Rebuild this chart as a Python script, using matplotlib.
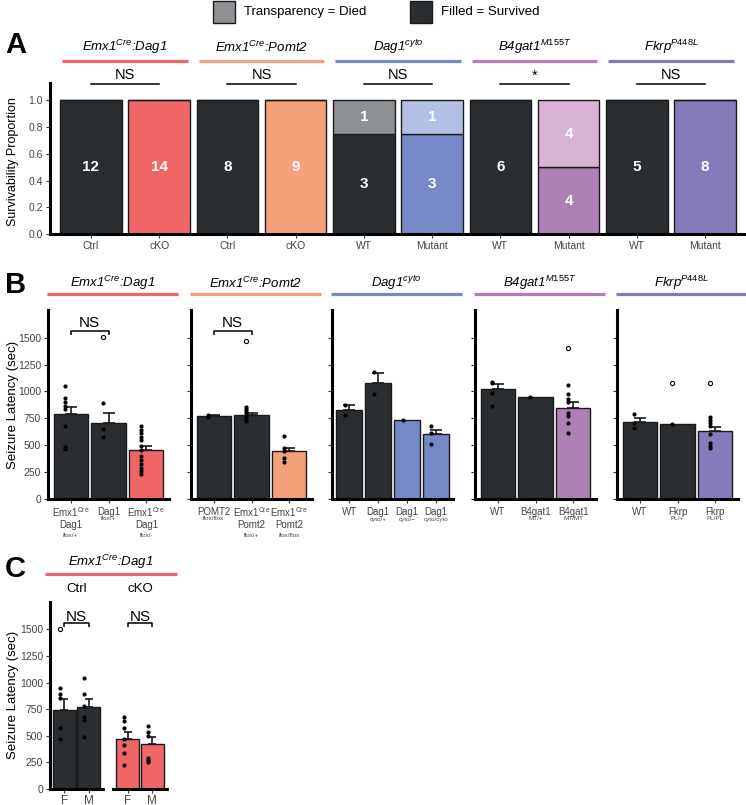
import numpy as np
import matplotlib
matplotlib.use("Agg")
import matplotlib.pyplot as plt
from matplotlib.patches import Rectangle
from matplotlib.lines import Line2D
from matplotlib.transforms import blended_transform_factory

plt.rcParams["font.family"] = ["Liberation Sans", "DejaVu Sans"]
plt.rcParams["mathtext.fontset"] = "custom"
plt.rcParams["mathtext.rm"] = "Liberation Sans"
plt.rcParams["mathtext.it"] = "Liberation Sans:italic"
plt.rcParams["mathtext.bf"] = "Liberation Sans:bold"

# ----------------------------------
# Colours
# ----------------------------------
DARK = "#2b2e31"
DARK_DIED = "#8e9193"
RED = "#f06667"
SALMON = "#f5a27c"
BLUE = "#7589c7"
BLUE_DIED = "#b3bfe4"
PINK = "#af80b6"
PINK_DIED = "#d8b3d6"
PURPLE = "#857bba"
EDGE = "#1a1a1a"
TICK_COL = "#444444"

# ----------------------------------
# Data: panel A (survival counts)
# ----------------------------------
group_titles = ["Emx1$^{Cre}$:Dag1", "Emx1$^{Cre}$:Pomt2", "Dag1$^{cyto}$",
                "B4gat1$^{M155T}$", "Fkrp$^{P448L}$"]
group_colors = [RED, SALMON, BLUE, PINK, PURPLE]

a_xlabels = ["Ctrl", "cKO", "Ctrl", "cKO", "WT", "Mutant", "WT", "Mutant", "WT", "Mutant"]
a_survived = [12, 14, 8, 9, 3, 3, 6, 4, 5, 8]
a_died = [0, 0, 0, 0, 1, 1, 0, 4, 0, 0]
a_surv_colors = [DARK, RED, DARK, SALMON, DARK, BLUE, DARK, PINK, DARK, PURPLE]
a_died_colors = [DARK_DIED, RED, DARK_DIED, SALMON, DARK_DIED, BLUE_DIED, DARK_DIED, PINK_DIED, DARK_DIED, PURPLE]
a_sig = ["NS", "NS", "NS", "*", "NS"]

# ----------------------------------
# Data: panel B (seizure latency, sec)
# ----------------------------------
b_labels = [
    [(["Emx1$^{\\mathrm{Cre}}$", "Dag1"], "flox/+"), (["Dag1"], "flox/+"), (["Emx1$^{\\mathrm{Cre}}$", "Dag1"], "flox/-")],
    [(["POMT2"], "flox/flox"), (["Emx1$^{\\mathrm{Cre}}$", "Pomt2"], "flox/+"), (["Emx1$^{\\mathrm{Cre}}$", "Pomt2"], "flox/flox")],
    [(["WT"], ""), (["Dag1"], "cyto/+"), (["Dag1"], "cyto/\u2212"), (["Dag1"], "cyto/cyto")],
    [(["WT"], ""), (["B4gat1"], "MT/+"), (["B4gat1"], "MT/MT")],
    [(["WT"], ""), (["Fkrp"], "PL/+"), (["Fkrp"], "PL/PL")],
]
b_colors = [
    [DARK, DARK, RED],
    [DARK, DARK, SALMON],
    [DARK, DARK, BLUE, BLUE],
    [DARK, DARK, PINK],
    [DARK, DARK, PURPLE],
]
b_means = [
    [789, 706, 451],
    [773, 780, 442],
    [829, 1077, 730, 600],
    [1024, 944, 848],
    [715, 699, 634],
]
b_sem = [
    [65, 92, 44],
    [8, 24, 35],
    [46, 93, 0, 43],
    [44, 0, 52],
    [40, 0, 37],
]
b_points = [
    [[1053, 943, 906, 866, 836, 674, 479, 464], [897, 650, 572],
     [674, 643, 613, 581, 544, 495, 451, 402, 365, 328, 288, 256, 232]],
    [[782, 765], [854, 835, 815, 795, 770, 745, 725], [588, 473, 442, 380, 340]],
    [[875, 785], [1176, 978], [730], [674, 613, 513]],
    [[1092, 1077, 984, 860], [944], [1059, 978, 932, 906, 798, 773, 706, 618]],
    [[789, 706, 659], [699], [758, 730, 706, 674, 604, 520, 489, 474]],
]
b_outliers = [
    [[], [1510], []],
    [[], [1473], []],
    [[], [], [], []],
    [[], [], [1402]],
    [[], [1077], [1077]],
]
b_sig = ["NS", "NS", None, None, None]

# ----------------------------------
# Data: panel C (sex split)
# ----------------------------------
c_facets = ["Ctrl", "cKO"]
c_xlabels = ["F", "M"]
c_colors = [DARK, RED]
c_means = [[743, 774], [474, 425]]
c_sem = [[100, 72], [60, 59]]
c_points = [
    [[947, 893, 859, 572, 469], [1046, 890, 781, 681, 650, 487]],
    [[675, 643, 572, 469, 409, 337, 228], [593, 534, 500, 291, 270, 250]],
]
c_outliers = [[[1500], []], [[], []]]

# ----------------------------------
# Figure + helpers (pixel layout)
# ----------------------------------
W, H = 746, 805
fig = plt.figure(figsize=(W / 100, H / 100), dpi=100)


def rect(l, t, r, b):
    return [l / W, 1 - b / H, (r - l) / W, (b - t) / H]


def fx(x):
    return x / W


def fy(y):
    return 1 - y / H


def style_ax(ax, left=True):
    for s in ["top", "right"]:
        ax.spines[s].set_visible(False)
    ax.spines["bottom"].set_linewidth(2.2)
    ax.spines["left"].set_linewidth(2.2)
    if not left:
        ax.spines["left"].set_visible(False)
        ax.tick_params(axis="y", left=False, labelleft=False)
    ax.tick_params(length=3, width=0.8, color="#333333", labelcolor=TICK_COL,
                   labelsize=7.5, pad=2)


def draw_latency(ax, means, sem, points, outliers, colors, bw=0.9, jit=0.15, cap=4):
    x = np.arange(1, len(means) + 1)
    ax.bar(x, means, bw, color=colors, edgecolor=EDGE, linewidth=1.0, zorder=2)
    for xi, m, s in zip(x, means, sem):
        if s > 0:
            ax.errorbar(xi, m, yerr=[[0], [s]], fmt="none", ecolor=EDGE,
                        elinewidth=1.2, capsize=cap, capthick=1.2, zorder=3)
    for xi, pts, outs in zip(x, points, outliers):
        ax.scatter([xi - jit] * len(pts), pts, s=9, color="black", zorder=4, linewidths=0)
        if outs:
            ax.scatter([xi - jit] * len(outs), outs, s=9, facecolor="white",
                       edgecolor="black", linewidths=0.8, zorder=4)
    return x


def bracket(ax, x1, x2, y, drop, label, size=11, gap=15):
    ax.plot([x1, x1, x2, x2], [y - drop, y, y, y - drop], color="black",
            lw=1.1, clip_on=False, solid_capstyle="butt")
    ax.text((x1 + x2) / 2, y + gap, label, ha="center", va="bottom",
            fontsize=size, clip_on=False)


# ----------------------------------
# Panel A
# ----------------------------------
axA = fig.add_axes(rect(50, 83, 746, 234))
style_ax(axA)
xA = np.arange(1, len(a_xlabels) + 1)
tot = np.array(a_survived) + np.array(a_died)
p_surv = np.array(a_survived) / tot
p_died = np.array(a_died) / tot
axA.bar(xA, p_surv, 0.9, color=a_surv_colors, edgecolor=EDGE, linewidth=1.0)
axA.bar(xA, p_died, 0.9, bottom=p_surv, color=a_died_colors, edgecolor=EDGE, linewidth=1.0)
for xi, ns, nd, ps, pd in zip(xA, a_survived, a_died, p_surv, p_died):
    axA.text(xi, ps / 2, str(ns), ha="center", va="center", color="white",
             fontsize=11, fontweight="bold")
    if nd > 0:
        axA.text(xi, ps + pd / 2, str(nd), ha="center", va="center", color="white",
                 fontsize=11, fontweight="bold")
axA.set_xlim(0.4, len(xA) + 0.6)
axA.set_ylim(0, 1.13)
axA.set_xticks(xA)
axA.set_xticklabels(a_xlabels)
axA.set_yticks(np.arange(0, 1.01, 0.2))
axA.set_yticklabels([f"{v:.1f}" for v in np.arange(0, 1.01, 0.2)])

trA = blended_transform_factory(axA.transData, fig.transFigure)
for k, (title, col, sig) in enumerate(zip(group_titles, group_colors, a_sig)):
    x1, x2 = xA[2 * k], xA[2 * k + 1]
    cx = (x1 + x2) / 2
    fig.add_artist(Line2D([cx - 0.92, cx + 0.92], [fy(61), fy(61)], transform=trA,
                          color=col, lw=2.3, solid_capstyle="butt"))
    fig.text(cx, fy(47), title, transform=trA, ha="center", va="center",
             fontsize=9.5, fontstyle="italic")
    axA.plot([x1, x2], [1.125, 1.125], color="black", lw=1.1, clip_on=False)
    axA.text(cx, 1.135, sig, ha="center", va="bottom", fontsize=10.5, clip_on=False)

fig.text(fx(13), fy(162), "Survivability Proportion", rotation=90,
         ha="center", va="center", fontsize=9)

# legend
for x0, col, lab in [(213, DARK_DIED, "Transparency = Died"), (410, DARK, "Filled = Survived")]:
    fig.add_artist(Rectangle((fx(x0), fy(23)), 22 / W, 22 / H, transform=fig.transFigure,
                             facecolor=col, edgecolor=EDGE, linewidth=1.0))
    fig.text(fx(x0 + 31), fy(12), lab, ha="left", va="center", fontsize=9.5)

# ----------------------------------
# Panel B
# ----------------------------------
b_lefts = [48, 191, 332, 475, 617]
for i, left in enumerate(b_lefts):
    ax = fig.add_axes(rect(left, 310, left + 121, 499))
    style_ax(ax)
    x = draw_latency(ax, b_means[i], b_sem[i], b_points[i], b_outliers[i], b_colors[i])
    ax.set_xlim(0.4, len(x) + 0.6)
    ax.set_ylim(0, 1757)
    ax.set_yticks(np.arange(0, 1501, 250))
    ax.set_xticks(x)
    ax.set_xticklabels([])
    if i > 0:
        ax.set_yticklabels([])
    tr = blended_transform_factory(ax.transData, fig.transFigure)
    for xi, (lines, sub) in zip(x, b_labels[i]):
        for j, ln in enumerate(lines):
            fig.text(xi, fy(512 + 12.5 * j), ln, transform=tr, ha="center", va="center",
                     fontsize=7, color=TICK_COL)
        if sub:
            fig.text(xi, fy(519 if len(lines) == 1 else 535), sub, transform=tr,
                     ha="center", va="center", fontsize=4.5, color=TICK_COL)
    if b_sig[i]:
        bracket(ax, x[0], x[1], 1560, 35, b_sig[i], size=11, gap=10)
    fig.add_artist(Line2D([fx(left - 1), fx(left + 130)], [fy(294), fy(294)],
                          transform=fig.transFigure, color=group_colors[i], lw=2.3,
                          solid_capstyle="butt"))
    fig.text(fx(left + 64.5), fy(283), group_titles[i], ha="center", va="center",
             fontsize=9.5, fontstyle="italic")

fig.text(fx(13), fy(405), "Seizure Latency (sec)", rotation=90,
         ha="center", va="center", fontsize=9.5)

# ----------------------------------
# Panel C
# ----------------------------------
c_bounds = [(50, 103), (113, 167)]
for i, (l, r) in enumerate(c_bounds):
    ax = fig.add_axes(rect(l, 602, r, 789))
    style_ax(ax, left=(i == 0))
    x = draw_latency(ax, c_means[i], c_sem[i], c_points[i], c_outliers[i],
                     [c_colors[i]] * 2, bw=0.92, jit=0.17, cap=3)
    ax.set_xlim(0.4, 2.6)
    ax.set_ylim(0, 1757)
    ax.set_yticks(np.arange(0, 1501, 250))
    ax.set_xticks(x)
    ax.set_xticklabels(c_xlabels, fontsize=8.5)
    ax.tick_params(axis="x", pad=1)
    bracket(ax, x[0], x[1], 1561, 37, "NS", size=11, gap=-12)
    fig.text(fx((l + r) / 2), fy(589), c_facets[i], ha="center", va="center", fontsize=9.5)

fig.add_artist(Line2D([fx(45), fx(177)], [fy(574), fy(574)], transform=fig.transFigure,
                      color=RED, lw=2.3, solid_capstyle="butt"))
fig.text(fx(111), fy(562), group_titles[0], ha="center", va="center",
         fontsize=9.5, fontstyle="italic")
fig.text(fx(13), fy(695), "Seizure Latency (sec)", rotation=90,
         ha="center", va="center", fontsize=9.5)

# panel letters
for lab, y in [("A", 45), ("B", 285), ("C", 569)]:
    fig.text(fx(5), fy(y), lab, ha="left", va="center", fontsize=21, fontweight="bold")

fig.savefig("out.png", dpi=100)
